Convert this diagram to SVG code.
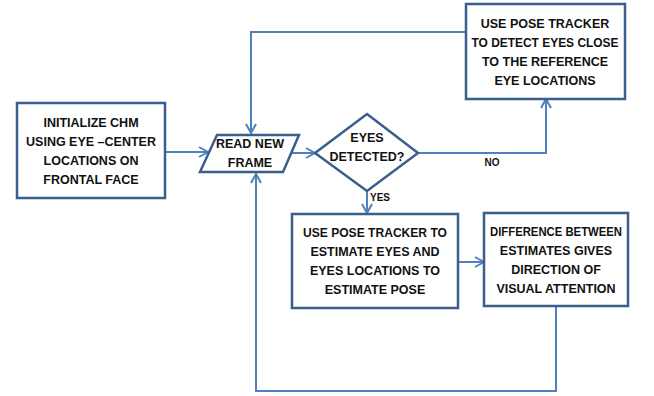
<svg xmlns="http://www.w3.org/2000/svg" width="654" height="396" viewBox="0 0 654 396">
<defs>
<marker id="arr" viewBox="0 0 12 12" refX="11" refY="6" markerWidth="12" markerHeight="12" markerUnits="userSpaceOnUse" orient="auto">
<polyline points="2,1 11,6 2,11" fill="none" stroke="#4F81BD" stroke-width="2"/>
</marker>
<style>
.n{fill:#fff;stroke:#3A5F8C;stroke-width:2.5}
.t{font-family:"Liberation Sans",Arial,sans-serif;font-weight:bold;font-size:12.5px;fill:#111;text-anchor:middle}
.s{font-family:"Liberation Sans",Arial,sans-serif;font-weight:bold;font-size:10px;fill:#111;text-anchor:middle}
.c{fill:none;stroke:#4F81BD;stroke-width:2;marker-end:url(#arr)}
</style>
</defs>
<rect width="654" height="396" fill="#fff"/>
<g id="connectors">
<line class="c" x1="165" y1="152" x2="208" y2="152"/>
<line class="c" x1="291" y1="153" x2="315" y2="153"/>
<path class="c" d="M418,153 H546 V99"/>
<path class="c" d="M466,32 H251 V133"/>
<line class="c" x1="367" y1="191" x2="367" y2="213"/>
<line class="c" x1="458" y1="262" x2="484" y2="262"/>
<path class="c" d="M556,306 V391 H256 V174"/>
<text class="s" x="492" y="166">NO</text>
<text class="s" x="380" y="201">YES</text>
</g>
<g id="init">
<rect class="n" x="17" y="103" width="148" height="95"/>
<text class="t" x="91" y="127">INITIALIZE CHM</text>
<text class="t" x="91" y="146">USING EYE –CENTER</text>
<text class="t" x="91" y="165">LOCATIONS ON</text>
<text class="t" x="91" y="184">FRONTAL FACE</text>
</g>
<g id="read">
<polygon class="n" points="200,172 217,135 299,135 283,172"/>
<text class="t" x="250" y="148">READ NEW</text>
<text class="t" x="250" y="167">FRAME</text>
</g>
<g id="decision">
<polygon class="n" points="367,114 418,153 367,191 315,153"/>
<text class="t" x="367" y="142">EYES</text>
<text class="t" x="367" y="161">DETECTED?</text>
</g>
<g id="detect">
<rect class="n" x="466" y="4" width="159" height="95"/>
<text class="t" x="545" y="28">USE POSE TRACKER</text>
<text class="t" x="545" y="47" textLength="147" lengthAdjust="spacingAndGlyphs">TO DETECT EYES CLOSE</text>
<text class="t" x="545" y="66">TO THE REFERENCE</text>
<text class="t" x="545" y="85">EYE LOCATIONS</text>
</g>
<g id="estimate">
<rect class="n" x="292" y="214" width="166" height="94"/>
<text class="t" x="375" y="237" textLength="144" lengthAdjust="spacingAndGlyphs">USE POSE TRACKER TO</text>
<text class="t" x="375" y="256">ESTIMATE EYES AND</text>
<text class="t" x="375" y="275">EYES LOCATIONS TO</text>
<text class="t" x="375" y="294">ESTIMATE POSE</text>
</g>
<g id="difference">
<rect class="n" x="484" y="213" width="144" height="93"/>
<text class="t" x="556" y="236" textLength="132" lengthAdjust="spacingAndGlyphs">DIFFERENCE BETWEEN</text>
<text class="t" x="556" y="255">ESTIMATES GIVES</text>
<text class="t" x="556" y="274">DIRECTION OF</text>
<text class="t" x="556" y="293">VISUAL ATTENTION</text>
</g>
</svg>
